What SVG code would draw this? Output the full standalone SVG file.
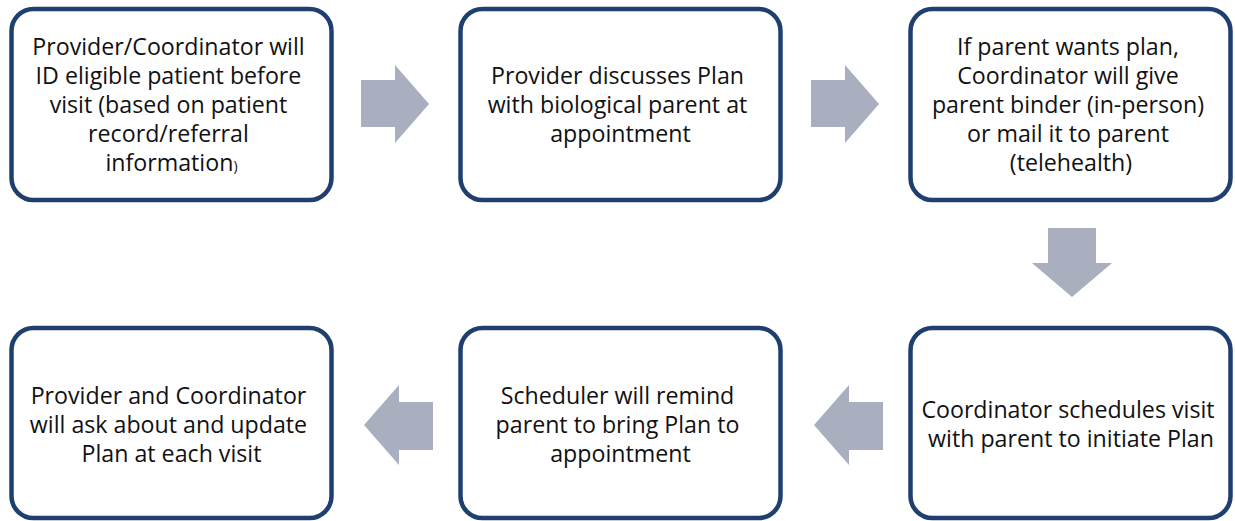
<svg xmlns="http://www.w3.org/2000/svg" width="1235" height="521" viewBox="0 0 1235 521">
  <style>
    .box { fill: #ffffff; stroke: #1f3f6f; stroke-width: 4.5; }
    .lbl { font-family: "Open Sans", "Liberation Sans", sans-serif; font-size: 23.2px; fill: #111111; text-anchor: middle; }
    .arrow { fill: #a9afbe; }
  </style>
  <rect width="1235" height="521" fill="#ffffff"/>

  <!-- flow arrows -->
  <g id="connectors">
    <polygon class="arrow" points="361,80 395,80 395,65 429,104 395,143 395,127 361,127"/>
    <polygon class="arrow" points="811,80 845,80 845,65 879,104 845,143 845,127 811,127"/>
    <polygon class="arrow" points="1048,228 1096,228 1096,263 1112,263 1072,297 1032,263 1048,263"/>
    <polygon class="arrow" points="883,402 849,402 849,385 814,425 849,465 849,450 883,450"/>
    <polygon class="arrow" points="433,402 399,402 399,385 364,425 399,465 399,450 433,450"/>
  </g>

  <g id="step1">
    <rect class="box" x="11.5" y="9" width="320" height="191" rx="22"/>
    <text class="lbl">
      <tspan x="171.5" y="55">Provider/Coordinator will</tspan>
      <tspan x="171.5" y="84">ID eligible patient before</tspan>
      <tspan x="171.5" y="113">visit (based on patient</tspan>
      <tspan x="171.5" y="142">record/referral</tspan>
      <tspan x="171.5" y="171">information<tspan font-size="14px">)</tspan></tspan>
    </text>
  </g>

  <g id="step2">
    <rect class="box" x="460.5" y="9" width="320" height="191" rx="22"/>
    <text class="lbl">
      <tspan x="620.5" y="84">Provider discusses Plan</tspan>
      <tspan x="620.5" y="113">with biological parent at</tspan>
      <tspan x="620.5" y="142">appointment</tspan>
    </text>
  </g>

  <g id="step3">
    <rect class="box" x="910.5" y="9" width="320" height="191" rx="22"/>
    <text class="lbl">
      <tspan x="1071" y="55">If parent wants plan,</tspan>
      <tspan x="1071" y="84">Coordinator will give</tspan>
      <tspan x="1071" y="113">parent binder (in-person)</tspan>
      <tspan x="1071" y="142">or mail it to parent</tspan>
      <tspan x="1071" y="171">(telehealth)</tspan>
    </text>
  </g>

  <g id="step4">
    <rect class="box" x="910.5" y="328" width="320" height="190" rx="22"/>
    <text class="lbl">
      <tspan x="1071" y="418">Coordinator schedules visit</tspan>
      <tspan x="1071" y="447">with parent to initiate Plan</tspan>
    </text>
  </g>

  <g id="step5">
    <rect class="box" x="460.5" y="328" width="320" height="190" rx="22"/>
    <text class="lbl">
      <tspan x="620.5" y="404">Scheduler will remind</tspan>
      <tspan x="620.5" y="433">parent to bring Plan to</tspan>
      <tspan x="620.5" y="462">appointment</tspan>
    </text>
  </g>

  <g id="step6">
    <rect class="box" x="11.5" y="328" width="320" height="190" rx="22"/>
    <text class="lbl">
      <tspan x="171.5" y="404">Provider and Coordinator</tspan>
      <tspan x="171.5" y="433">will ask about and update</tspan>
      <tspan x="171.5" y="462">Plan at each visit</tspan>
    </text>
  </g>
</svg>
